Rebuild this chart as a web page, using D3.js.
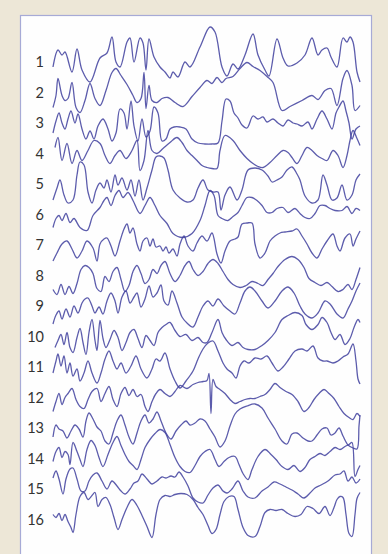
<!DOCTYPE html>
<html>
<head>
<meta charset="utf-8">
<script src="https://cdn.jsdelivr.net/npm/d3@7"></script>
<style>
  html, body { margin: 0; padding: 0; background: #ede7d7; }
  svg { display: block; }
</style>
</head>
<body>
<script>
(() => {
  // 16 EEG channels, each as [sample, amplitude]
  const ch1 = [[0,-5],[5,12],[9,7],[12,10],[19,-10],[24,13],[29,-8],[37,-20],[47,4],[54,9],[59,25],[63,0],[67,-5],[74,20],[77,24],[81,0],[87,24],[90,19],[93,-8],[96,23],[101,5],[107,-5],[112,-10],[117,-16],[120,-10],[125,-15],[132,0],[137,-5],[147,15],[157,35],[162,30],[169,-5],[174,-14],[180,-2],[185,-7],[192,7],[200,28],[205,7],[212,-8],[216,-14],[224,23],[230,4],[235,-4],[244,-1],[252,7],[259,24],[265,7],[269,12],[274,14],[278,5],[284,-5],[290,24],[294,20],[297,25],[300,20],[304,-10],[307,-20]];
  const ch2 = [[0,-15],[3,-3],[5,14],[9,-3],[12,-8],[15,-6],[19,10],[23,-15],[27,-20],[32,-8],[37,9],[42,-6],[47,-13],[53,2],[59,20],[63,24],[68,17],[74,8],[80,-3],[84,-10],[88,-6],[91,20],[93,-16],[96,7],[99,-8],[104,-10],[109,-6],[115,-5],[122,-10],[130,-14],[139,-4],[147,5],[154,12],[159,9],[164,15],[169,10],[173,14],[180,16],[187,24],[194,30],[200,26],[207,22],[214,16],[220,10],[229,-18],[237,-14],[249,-8],[259,-3],[265,-7],[272,2],[278,4],[284,-13],[290,14],[294,22],[299,7],[302,-18],[307,-13]];
  const ch3 = [[0,-10],[3,2],[6,10],[9,0],[12,-6],[15,4],[18,12],[22,0],[25,9],[29,-6],[33,-16],[37,-8],[41,-16],[45,-3],[50,4],[55,-6],[59,-18],[63,-10],[67,14],[71,10],[74,-6],[78,22],[81,-3],[85,-18],[89,4],[93,-14],[97,-8],[101,16],[105,10],[109,-18],[113,-16],[117,-6],[121,-4],[127,-4],[133,-6],[139,-16],[145,-20],[152,-21],[159,-21],[165,-20],[169,2],[173,24],[177,22],[181,10],[185,5],[189,-2],[194,-5],[200,7],[205,4],[210,6],[214,1],[220,4],[225,0],[230,-3],[235,3],[240,0],[244,-1],[249,-3],[255,1],[259,-6],[264,4],[269,12],[274,4],[279,-6],[283,10],[286,16],[290,22],[293,12],[296,0],[299,-16],[303,-6],[307,-3]];
  const ch4 = [[2,6],[5,16],[9,-7],[14,10],[19,-10],[24,3],[29,-7],[35,3],[41,13],[47,10],[52,-2],[57,-10],[62,-2],[67,3],[73,-5],[79,3],[84,13],[87,-17],[91,-7],[95,23],[99,3],[104,0],[110,5],[117,11],[124,16],[129,11],[134,3],[139,-2],[144,-7],[149,-12],[154,-14],[159,-15],[164,-15],[167,3],[172,18],[180,13],[187,3],[194,-5],[200,-10],[205,-13],[210,-14],[217,-9],[224,-2],[230,3],[235,1],[239,-4],[244,-10],[249,-2],[254,6],[259,3],[264,-2],[269,-5],[274,-7],[280,3],[285,-2],[290,-14],[294,-2],[297,13],[300,23],[304,15],[307,8]];
  const ch5 = [[0,-16],[4,-4],[7,4],[11,-11],[15,-19],[20,-16],[24,9],[27,22],[31,19],[35,-8],[39,-19],[43,-6],[47,1],[51,-4],[54,4],[58,-8],[62,9],[65,-1],[69,6],[74,-6],[78,4],[82,-12],[86,4],[90,-16],[94,-4],[99,14],[103,27],[107,28],[111,26],[115,14],[120,-6],[127,-14],[134,-18],[140,-16],[145,-4],[150,4],[155,-6],[160,-8],[165,-8],[168,-26],[172,-11],[177,-3],[184,-16],[189,-6],[195,14],[202,16],[209,14],[215,8],[219,2],[224,4],[229,7],[234,14],[239,17],[244,10],[247,4],[252,-12],[259,-19],[265,-16],[270,9],[274,-1],[279,-16],[284,-14],[289,-1],[294,-16],[299,-11],[303,4],[307,10]];
  const ch6 = [[0,-13],[3,-4],[6,-1],[9,-6],[13,1],[17,-8],[21,-4],[27,-13],[34,-16],[40,-1],[47,7],[51,14],[54,17],[58,9],[62,19],[66,24],[70,17],[75,22],[80,14],[87,1],[92,9],[97,17],[102,9],[107,-1],[114,-9],[120,-19],[130,-23],[139,-19],[147,-6],[152,9],[157,24],[161,19],[165,-1],[169,-4],[175,-6],[180,-2],[185,2],[189,9],[194,17],[199,17],[204,14],[209,9],[214,2],[219,2],[224,6],[230,7],[235,2],[242,6],[247,1],[252,-3],[257,-4],[262,1],[267,9],[272,9],[277,6],[282,4],[289,4],[294,8],[299,1],[303,6],[307,4]];
  const ch7 = [[0,-16],[4,-8],[9,1],[14,4],[19,-4],[24,-13],[29,-6],[34,4],[40,-3],[44,-16],[47,1],[51,6],[54,7],[58,-1],[62,-11],[67,4],[71,16],[74,21],[77,12],[80,17],[84,1],[87,-6],[90,4],[94,7],[97,-1],[100,6],[103,-2],[107,-1],[110,-6],[113,-2],[116,-8],[120,-4],[124,-11],[127,1],[131,9],[135,-1],[140,-6],[144,2],[149,9],[154,4],[159,12],[164,-9],[168,-18],[172,-6],[177,4],[182,6],[185,8],[189,21],[194,22],[199,22],[202,1],[207,-13],[212,-8],[217,4],[222,9],[227,12],[232,13],[239,14],[244,16],[249,9],[254,1],[259,-8],[264,-13],[269,-4],[274,4],[280,11],[284,-1],[287,-6],[292,7],[297,11],[300,-1],[303,6],[307,14]];
  const ch8 = [[0,-14],[4,-19],[8,-9],[12,-19],[16,-11],[20,-18],[24,-8],[28,6],[32,10],[36,8],[40,2],[44,-13],[48,-16],[52,-1],[56,-6],[60,4],[64,8],[68,-4],[72,-16],[76,-10],[80,4],[84,10],[88,2],[92,-8],[96,-4],[100,6],[104,2],[108,10],[112,14],[117,2],[122,-6],[127,0],[132,10],[136,14],[140,6],[145,0],[150,4],[155,12],[160,16],[165,12],[170,4],[175,-4],[180,-9],[187,-12],[193,-10],[199,-6],[205,-8],[210,-10],[215,-4],[220,2],[225,9],[232,16],[239,19],[245,16],[251,8],[256,-3],[262,-7],[268,-10],[274,-7],[279,-11],[285,-16],[290,-14],[295,-9],[299,-14],[303,-4],[307,8]];
  const ch9 = [[0,-18],[3,-9],[6,-5],[9,-13],[13,-3],[17,-11],[21,0],[25,-7],[29,3],[32,7],[35,8],[39,0],[42,-7],[46,-1],[50,-8],[54,5],[58,13],[62,5],[65,-7],[69,9],[73,15],[77,3],[81,9],[84,13],[88,-1],[92,7],[96,20],[100,9],[104,13],[108,21],[111,5],[115,1],[119,15],[124,3],[129,-11],[134,-17],[140,-21],[145,-11],[150,0],[155,5],[160,0],[165,7],[171,0],[177,-5],[182,-8],[187,3],[192,15],[197,19],[202,15],[209,5],[215,-2],[222,5],[229,15],[235,19],[241,13],[247,0],[252,-8],[259,-12],[265,-7],[272,5],[277,2],[284,-8],[290,-12],[295,-3],[299,5],[303,15],[307,23]];
  const ch10 = [[2,-11],[5,-4],[8,2],[11,-8],[14,4],[17,-11],[20,-16],[24,-1],[27,8],[30,-6],[33,-18],[36,4],[39,17],[42,-4],[44,-14],[47,16],[50,-2],[53,-11],[57,-3],[61,6],[65,-1],[69,-14],[73,-6],[77,4],[81,7],[85,-2],[89,-11],[93,1],[97,-4],[101,-9],[105,4],[109,9],[113,12],[117,14],[122,6],[127,0],[133,2],[139,-4],[145,-1],[150,-6],[154,-6],[159,4],[165,17],[169,4],[173,-3],[179,-9],[185,-6],[190,-11],[195,-13],[202,-13],[209,-9],[215,-4],[222,4],[229,17],[235,21],[242,24],[249,21],[253,12],[259,7],[265,12],[269,19],[274,14],[278,4],[282,-3],[287,2],[292,-8],[297,-2],[301,9],[305,17],[307,14]];
  const ch11 = [[0,-6],[3,6],[5,13],[8,1],[11,11],[14,-6],[17,4],[20,-9],[24,-2],[27,-14],[31,-6],[35,6],[39,-6],[44,-16],[48,-6],[52,8],[56,16],[60,6],[64,-2],[68,4],[73,-6],[78,1],[83,11],[88,-2],[94,-11],[99,-2],[103,8],[107,6],[112,14],[117,-2],[122,-14],[127,-21],[133,-14],[140,-4],[145,8],[150,18],[155,24],[160,26],[165,16],[170,4],[174,-2],[179,-6],[183,-11],[187,1],[191,6],[196,4],[202,9],[208,8],[214,11],[219,4],[225,-4],[230,0],[236,8],[242,16],[249,18],[254,16],[260,21],[265,9],[270,6],[274,6],[280,4],[285,6],[290,10],[295,13],[300,23],[303,6],[305,-12],[307,-17]];
  const ch12 = [[0,-14],[3,-4],[6,4],[9,-7],[12,0],[15,4],[19,9],[23,-2],[27,-9],[31,-11],[35,-2],[39,6],[44,9],[48,-4],[52,4],[56,11],[60,-2],[64,-9],[68,4],[72,10],[76,2],[80,8],[84,1],[88,3],[92,-9],[95,-14],[99,-4],[103,4],[107,8],[112,4],[117,1],[122,6],[127,12],[134,9],[140,13],[145,15],[150,16],[154,17],[156,24],[158,-16],[160,18],[163,11],[167,8],[172,4],[177,-2],[182,-6],[187,-4],[192,-2],[197,-1],[202,-1],[207,1],[212,3],[217,8],[222,14],[227,10],[233,6],[239,3],[245,-4],[251,-14],[256,-10],[261,-2],[266,4],[271,8],[276,4],[281,-1],[286,-9],[291,-16],[296,-20],[300,-22],[304,-16],[307,-19]];
  const ch13 = [[0,-9],[3,3],[6,-1],[10,-3],[14,-10],[18,-3],[22,3],[26,-1],[30,-9],[33,7],[36,15],[40,9],[44,1],[48,-3],[52,-13],[56,-16],[60,-5],[64,7],[68,13],[72,3],[76,-9],[80,-16],[84,-5],[88,7],[92,13],[96,5],[100,9],[104,16],[108,7],[113,-5],[118,-11],[123,-3],[128,3],[133,7],[137,3],[142,5],[147,9],[152,7],[157,-1],[162,-9],[167,-19],[172,-13],[177,2],[182,14],[187,19],[194,22],[202,24],[209,20],[215,10],[222,-1],[229,-13],[234,-16],[239,-6],[244,-5],[250,-10],[255,-13],[259,-13],[264,-7],[269,-1],[274,0],[278,-7],[282,-5],[286,0],[290,-8],[295,-17],[300,-20],[304,-21],[306,2],[307,13]];
  const ch14 = [[0,-3],[3,7],[6,11],[9,1],[12,7],[15,4],[17,-6],[20,16],[24,7],[27,-1],[30,-8],[34,9],[38,18],[42,13],[46,1],[50,-8],[55,4],[60,16],[64,22],[68,13],[72,4],[76,-3],[80,-7],[84,-11],[88,-1],[92,11],[97,19],[102,25],[107,29],[112,26],[117,14],[122,1],[127,-8],[132,-13],[137,-14],[142,-7],[147,2],[152,7],[157,9],[162,-1],[166,-8],[171,-3],[176,1],[182,2],[186,-6],[190,-15],[195,-21],[199,-11],[205,2],[212,9],[218,4],[223,-1],[229,-8],[235,-11],[241,-7],[247,-13],[252,-9],[257,-1],[262,2],[267,5],[272,3],[277,7],[282,11],[287,9],[292,12],[296,14],[299,16],[302,-18],[305,-11],[307,-7]];
  const ch15 = [[0,11],[3,18],[6,10],[10,-5],[13,10],[17,20],[20,21],[24,10],[28,-2],[32,-2],[36,8],[40,14],[44,16],[49,8],[54,0],[59,8],[64,3],[68,-2],[72,-5],[77,0],[81,6],[85,8],[89,15],[94,10],[99,5],[104,8],[109,12],[113,11],[118,13],[122,12],[126,17],[130,12],[135,3],[140,-9],[145,-13],[150,-14],[155,-6],[160,1],[165,4],[170,-2],[174,-4],[179,0],[185,8],[190,-2],[195,-8],[202,-9],[209,-2],[215,2],[221,7],[227,5],[233,2],[239,-1],[245,-5],[251,-9],[257,-4],[262,1],[268,4],[275,8],[282,14],[287,15],[291,18],[295,8],[299,12],[303,6],[307,10]];
  const ch16 = [[0,5],[3,2],[6,6],[9,-1],[12,5],[15,-2],[18,-8],[20,-13],[23,5],[27,23],[31,27],[35,20],[39,24],[42,27],[45,13],[49,20],[53,22],[57,15],[61,2],[65,-10],[69,0],[74,12],[79,20],[84,14],[89,4],[94,-7],[99,-18],[103,5],[107,20],[112,24],[117,23],[122,25],[128,26],[134,25],[140,20],[145,12],[150,5],[155,-6],[159,-14],[163,-10],[167,5],[171,18],[176,23],[181,23],[185,10],[190,-8],[195,-16],[202,-17],[207,-7],[212,7],[217,10],[223,9],[229,10],[235,6],[242,3],[248,5],[254,13],[260,11],[266,6],[272,13],[277,4],[281,12],[284,20],[287,23],[290,22],[293,5],[296,-14],[299,-17],[302,5],[304,21],[307,27]];

  const channels = [ch1, ch2, ch3, ch4, ch5, ch6, ch7, ch8, ch9, ch10, ch11, ch12, ch13, ch14, ch15, ch16];
  const labels = d3.range(1, 17).map(String);

  const width = 388, height = 554;

  const svg = d3.select("body").append("svg")
    .attr("width", width)
    .attr("height", height);

  // white panel with a thin bluish frame
  svg.append("rect")
    .attr("x", 20.5).attr("y", 15.5)
    .attr("width", 351).attr("height", 560)
    .attr("fill", "#fefefe")
    .attr("stroke", "#a7aad6")
    .attr("stroke-width", 1.2);

  let x = d3.scaleLinear().domain([0, 307]).range([53, 360]);
  let row = d3.scalePoint().domain(labels).range([62, 519.5]);
  let amp = d3.scaleLinear().domain([-30, 30]).range([30, -30]);

  // channel numbers
  svg.append("g")
    .selectAll("text")
    .data(labels)
    .join("text")
    .attr("x", 44)
    .attr("y", d => row(d))
    .attr("dy", "0.36em")
    .attr("text-anchor", "end")
    .attr("font-family", "Lato, 'Open Sans', sans-serif")
    .attr("font-size", 14.5)
    .attr("fill", "#333")
    .text(d => d);

  // traces
  svg.append("g")
    .selectAll("path")
    .data(channels)
    .join("path")
    .attr("fill", "none")
    .attr("stroke", "#40409e")
    .attr("stroke-width", 1.3)
    .attr("stroke-opacity", 0.85)
    .attr("stroke-linejoin", "round")
    .attr("d", (d, i) => d3.line()
      .curve(d3.curveCatmullRom.alpha(0.5))
      .x(p => x(p[0]))
      .y(p => row(labels[i]) + amp(p[1]))(d));
})()
</script>
</body>
</html>
